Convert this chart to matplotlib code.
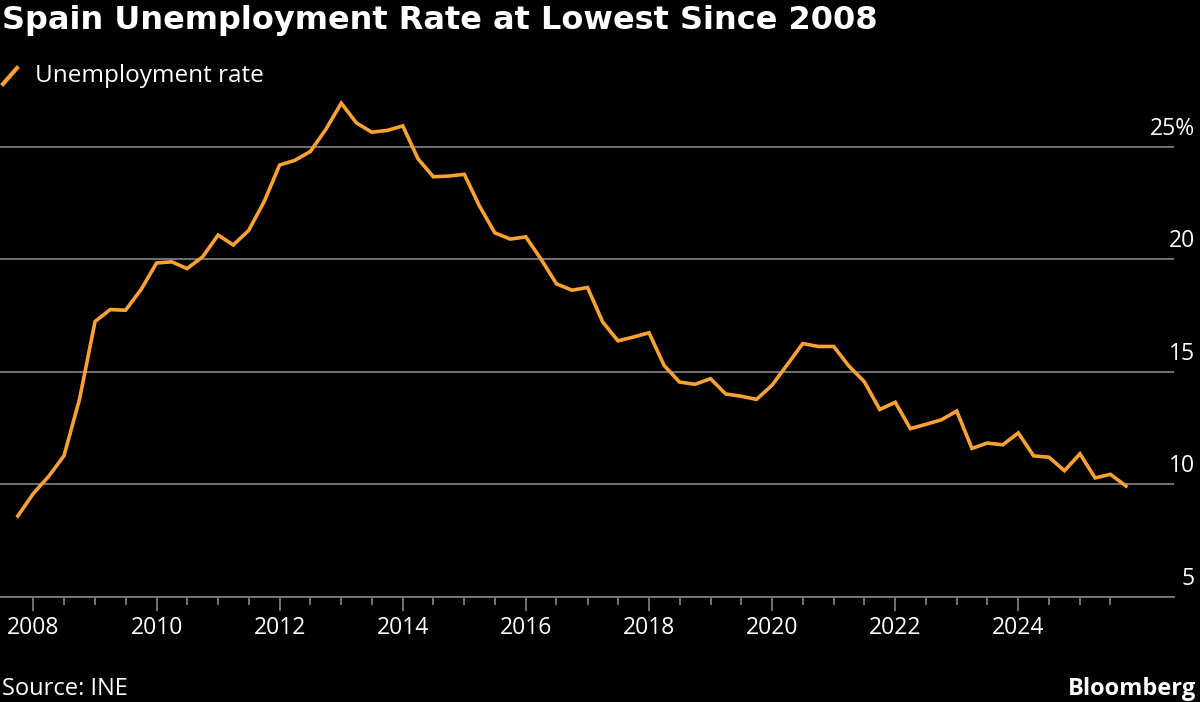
import matplotlib
matplotlib.use('Agg')
import matplotlib.pyplot as plt
import matplotlib.dates as mdates
import matplotlib.transforms as mtransforms
from matplotlib.lines import Line2D
from matplotlib.ticker import FixedLocator
import pandas as pd
from datetime import datetime

# quarterly unemployment rate, Q4 2007 .. Q4 2025
dates = pd.date_range('2007-10-01', periods=73, freq='QS')
rate = [8.60,
        9.60, 10.36, 11.28, 13.79,
        17.24, 17.77, 17.74, 18.66,
        19.84, 19.89, 19.59, 20.11,
        21.08, 20.64, 21.28, 22.56,
        24.19, 24.40, 24.79, 25.77,
        26.94, 26.06, 25.65, 25.73,
        25.93, 24.47, 23.67, 23.70,
        23.78, 22.37, 21.18, 20.90,
        21.00, 20.00, 18.91, 18.63,
        18.75, 17.22, 16.38, 16.55,
        16.74, 15.28, 14.55, 14.45,
        14.70, 14.02, 13.92, 13.78,
        14.41, 15.33, 16.26, 16.13,
        16.13, 15.26, 14.57, 13.33,
        13.65, 12.48, 12.67, 12.87,
        13.26, 11.60, 11.84, 11.76,
        12.29, 11.27, 11.21, 10.61,
        11.36, 10.29, 10.45, 9.93]
yticks = [5, 10, 15, 20, 25]
ytick_labels = ['5', '10', '15', '20', '25%']
xtick_years = list(range(2008, 2025, 2))

BG = '#000000'
ORANGE = '#F9A233'
GRID = '#7a7a7a'
FONT = 'Open Sans'

fig = plt.figure(figsize=(12, 7.02), dpi=100, facecolor=BG)
ax = fig.add_axes([0.0, 1 - 597 / 702, 1174 / 1200, (597 - 100) / 702])
ax.set_facecolor(BG)

ax.plot(dates, rate, color=ORANGE, lw=2.6, solid_joinstyle='miter', zorder=3)

ax.set_xlim(datetime(2007, 6, 17), datetime(2026, 7, 13))
ax.set_ylim(5, 27.08)

for s in ['top', 'left', 'right']:
    ax.spines[s].set_visible(False)
ax.spines['bottom'].set_color(GRID)
ax.spines['bottom'].set_linewidth(1.3)

ax.xaxis.set_major_locator(FixedLocator([mdates.date2num(datetime(y, 1, 1)) for y in xtick_years]))
minor = [mdates.date2num(datetime(y, m, 1)) for y in range(2008, 2026) for m in (1, 7)]
ax.xaxis.set_minor_locator(FixedLocator(minor))
ax.set_xticklabels([str(y) for y in xtick_years], fontsize=16.5, color='white', family=FONT)
ax.tick_params(axis='x', which='major', length=10, width=1.3, color=GRID, pad=4)
ax.tick_params(axis='x', which='minor', length=6, width=1.3, color=GRID)

ax.yaxis.tick_right()
ax.set_yticks(yticks)
ax.set_yticklabels(ytick_labels, fontsize=16.5, color='white', family=FONT, ha='right')
ax.tick_params(axis='y', length=0, pad=15)
ax.yaxis.grid(True, color=GRID, lw=1.3)
ax.set_axisbelow(True)
offset = mtransforms.ScaledTranslation(0, 0.21, fig.dpi_scale_trans)
for lab in ax.get_yticklabels():
    lab.set_transform(lab.get_transform() + offset)

fig.text(0.002, 1 - 21 / 702, 'Spain Unemployment Rate at Lowest Since 2008', fontsize=23,
         fontweight='bold', color='white', va='center', ha='left', family='DejaVu Sans')
fig.add_artist(Line2D([3 / 1200, 17 / 1200], [1 - 84 / 702, 1 - 68 / 702],
                      color=ORANGE, lw=3, transform=fig.transFigure))
fig.text(35 / 1200, 1 - 76 / 702, 'Unemployment rate', fontsize=17.5, color='white',
         va='center', ha='left', family=FONT)
fig.text(0.002, 1 - 689 / 702, 'Source: INE', fontsize=17, color='white',
         va='center', ha='left', family=FONT)
fig.text(0.997, 1 - 689 / 702, 'Bloomberg', fontsize=17, fontweight='bold', color='white',
         va='center', ha='right', family=FONT)

fig.savefig('out.png', dpi=100, facecolor=BG)
